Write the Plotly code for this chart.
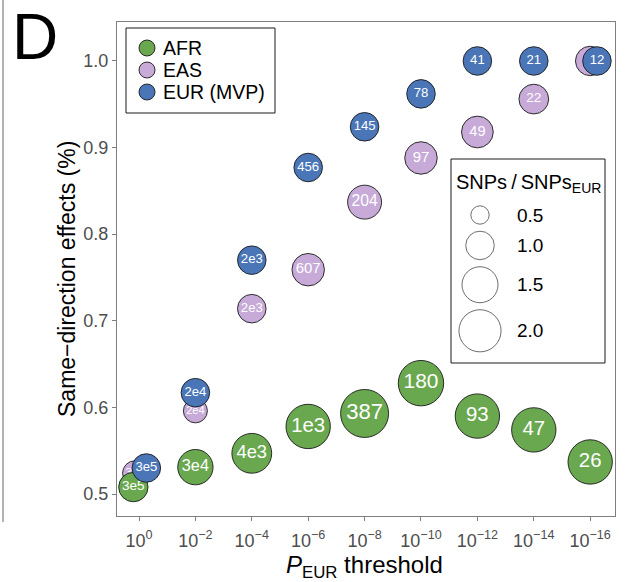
import numpy as np
import plotly.graph_objects as go

# ---- data -------------------------------------------------------------
p_exponents = [0, -2, -4, -6, -8, -10, -12, -14, -16]
populations = ["AFR", "EAS", "EUR (MVP)"]

afr_same = [0.508, 0.531, 0.547, 0.578, 0.593, 0.628, 0.590, 0.574, 0.537]
eas_same = [0.524, 0.596, 0.714, 0.759, 0.837, 0.888, 0.918, 0.956, 1.000]
eur_same = [0.530, 0.617, 0.770, 0.877, 0.924, 0.962, 1.000, 1.000, 1.000]

afr_nsnp = ["3e5", "3e4", "4e3", "1e3", "387", "180", "93", "47", "26"]
eas_nsnp = ["3e5", "2e4", "2e3", "607", "204", "97", "49", "22", "12"]
eur_nsnp = ["3e5", "2e4", "2e3", "456", "145", "78", "41", "21", "12"]

# SNPs / SNPs_EUR
afr_ratio = [1.05, 1.45, 1.80, 2.20, 2.55, 2.30, 2.20, 2.20, 2.20]
eas_ratio = [0.80, 0.75, 1.00, 1.25, 1.35, 1.25, 1.20, 1.07, 1.05]
eur_ratio = [1.00, 1.00, 1.00, 1.00, 1.00, 1.00, 1.00, 1.00, 1.00]

size_breaks = [0.5, 1.0, 1.5, 2.0]

# small horizontal dodge where points overlap
afr_dodge = [-0.10, 0, 0, 0, 0, 0, 0, 0, 0]
eas_dodge = [-0.07, 0, 0, 0, 0, 0, 0, 0, 0]
eur_dodge = [0.13, 0, 0, 0, 0, 0, 0, 0, 0.12]

# ---- styling ----------------------------------------------------------
FONT = "Liberation Sans, Arial, Helvetica, sans-serif"
COL = {"AFR": "#6aa84f", "EAS": "#c7aad8", "EUR (MVP)": "#4a76b8"}
EDGE = "#1a1a1a"
W, H = 628, 582
ML, MR, MT, MB = 117, 13, 22, 66
PW, PH = W - ML - MR, H - MT - MB


def radius(v):
    """Area-proportional size scale (pixels)."""
    return np.sqrt(240.0 * np.asarray(v, dtype=float) - 36.0)


def px_x(x):
    return (x - ML) / PW


def px_y(y):
    return (H - MB - y) / PH


xpos = np.arange(len(p_exponents), dtype=float)
tick_text = [f"10<sup>{'−' if e < 0 else ''}{abs(e)}</sup>" for e in p_exponents]

fig = go.Figure()

series = [
    ("EAS", eas_same, eas_nsnp, eas_ratio, eas_dodge),
    ("AFR", afr_same, afr_nsnp, afr_ratio, afr_dodge),
    ("EUR (MVP)", eur_same, eur_nsnp, eur_ratio, eur_dodge),
]
for name, yv, lab, ratio, dodge in series:
    r = radius(ratio)
    fig.add_trace(go.Scatter(
        x=xpos + np.asarray(dodge), y=yv, mode="markers+text", name=name,
        text=lab, textposition="middle center",
        textfont=dict(family=FONT, color="white", size=list(0.92 * r)),
        marker=dict(size=list(2 * r), color=COL[name],
                    line=dict(color=EDGE, width=0.9), opacity=1),
        showlegend=False, hoverinfo="skip", cliponaxis=False,
    ))


def legend_panel(fig, ax_id, left, right, top, bottom):
    """Framed box with its own hidden pixel-scaled axes."""
    fig.add_shape(type="rect", xref="paper", yref="paper",
                  x0=px_x(left), x1=px_x(right), y0=px_y(bottom), y1=px_y(top),
                  line=dict(color=EDGE, width=1), fillcolor="rgba(0,0,0,0)",
                  layer="above")
    fig.update_layout(**{
        f"xaxis{ax_id}": dict(domain=[px_x(left), px_x(right)], range=[0, right - left],
                              visible=False, anchor=f"y{ax_id}", fixedrange=True),
        f"yaxis{ax_id}": dict(domain=[px_y(bottom), px_y(top)], range=[bottom - top, 0],
                              visible=False, anchor=f"x{ax_id}", fixedrange=True),
    })


# ---- colour legend ------------------------------------------------------
legend_panel(fig, 3, 126, 275, 28, 113)
row_y = [20 + 22 * i for i in range(len(populations))]
fig.add_trace(go.Scatter(
    x=[21] * len(populations), y=row_y, xaxis="x3", yaxis="y3", mode="markers",
    showlegend=False, hoverinfo="skip",
    marker=dict(size=16, color=[COL[p] for p in populations],
                line=dict(color=EDGE, width=0.9)),
))
for p, yy in zip(populations, row_y):
    fig.add_annotation(x=35, y=yy, xref="x3", yref="y3", text=p,
                       showarrow=False, xanchor="left", yanchor="middle",
                       font=dict(family=FONT, size=19.5, color="black"))

# ---- size legend ------------------------------------------------------
box_l, box_r, box_t, box_b = 451, 605, 159, 363
legend_panel(fig, 2, box_l, box_r, box_t, box_b)

leg_r = radius(size_breaks)
centers = []
cy = 56.0
for i, rr in enumerate(leg_r):
    if i > 0:
        cy += leg_r[i - 1] + rr + 7
    centers.append(cy)

fig.add_trace(go.Scatter(
    x=[29] * len(size_breaks), y=centers, xaxis="x2", yaxis="y2",
    mode="markers", showlegend=False, hoverinfo="skip",
    marker=dict(size=list(2 * leg_r), color="white",
                line=dict(color=EDGE, width=0.9)),
))
for v, c in zip(size_breaks, centers):
    fig.add_annotation(x=64, y=c, xref="x2", yref="y2", text=f"{v:.1f}",
                       showarrow=False, xanchor="left", yanchor="middle",
                       font=dict(family=FONT, size=19, color="black"))
fig.add_annotation(x=(box_r - box_l) / 2, y=24, xref="x2", yref="y2",
                   text="SNPs\u2009/\u2009SNPs<sub>EUR</sub>", showarrow=False,
                   xanchor="center", yanchor="middle",
                   font=dict(family=FONT, size=20, color="black"))

# ---- panel letter, titles and outer rule --------------------------------
fig.add_annotation(x=px_x(10), y=px_y(-1), xref="paper", yref="paper",
                   text="D", showarrow=False, xanchor="left", yanchor="top",
                   font=dict(family=FONT, size=64, color="black"))
fig.add_shape(type="line", xref="paper", yref="paper",
              x0=px_x(3), x1=px_x(3), y0=px_y(0), y1=px_y(522),
              line=dict(color="#9a9a9a", width=1.5))
fig.add_annotation(x=px_x(67), y=px_y(279), xref="paper", yref="paper",
                   text="Same−direction effects (%)", textangle=-90,
                   showarrow=False, xanchor="center", yanchor="middle",
                   font=dict(family=FONT, size=23, color="black"))
fig.add_annotation(x=px_x(364), y=px_y(566), xref="paper", yref="paper",
                   text="<i>P</i><sub>EUR</sub> threshold",
                   showarrow=False, xanchor="center", yanchor="middle",
                   font=dict(family=FONT, size=24, color="black"))

axis_common = dict(showgrid=False, zeroline=False, showline=True, mirror=True,
                   linecolor="#7f7f7f", linewidth=1, ticks="outside", ticklen=4,
                   tickcolor="#7f7f7f", tickfont=dict(family=FONT, size=18, color="#4d4d4d"))

fig.update_layout(
    width=W, height=H, margin=dict(l=ML, r=MR, t=MT, b=MB),
    paper_bgcolor="white", plot_bgcolor="white",
    font=dict(family=FONT), showlegend=False,
    xaxis=dict(range=[-0.39, 8.44], tickvals=list(xpos), ticktext=tick_text,
               ticklabelstandoff=4, **axis_common),
    yaxis=dict(range=[0.4746, 1.045], tickvals=[0.5, 0.6, 0.7, 0.8, 0.9, 1.0],
               tickformat=".1f", ticklabelstandoff=0, **axis_common),
)

fig.write_html("out.html")
